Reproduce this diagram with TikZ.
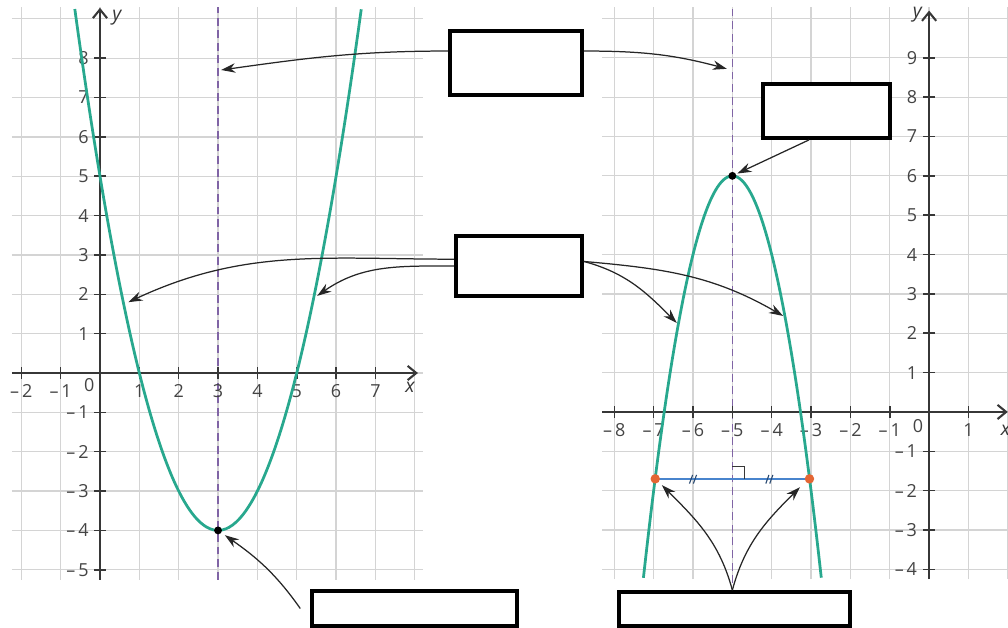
\documentclass[tikz,border=0pt]{standalone}
\usepackage{fontspec}
\setmainfont{Open Sans}
\usetikzlibrary{arrows.meta}

\definecolor{curveteal}{RGB}{40,168,142}
\definecolor{axisgray}{RGB}{55,55,55}
\definecolor{gridgray}{RGB}{212,212,212}
\definecolor{symmpurple}{RGB}{128,100,165}
\definecolor{pointorange}{RGB}{228,102,52}
\definecolor{chordblue}{RGB}{72,132,205}
\definecolor{labelgray}{RGB}{68,68,68}

% tick text: negative numbers get a dash
\newcommand\tickText[1]{\ifnum#1<0 –\,\the\numexpr0-(#1)\relax\else#1\fi}

\begin{document}
\begin{tikzpicture}[
    every node/.style={font=\fontsize{13}{15}\selectfont, text=labelgray},
    gridline/.style={gridgray, line width=0.9pt},
    axisline/.style={axisgray, line width=1.5pt, -{Straight Barb[length=2.2mm,width=3.6mm]}},
    tickline/.style={axisgray, line width=1.1pt},
    parabola/.style={curveteal, line width=2pt},
    symmline/.style={symmpurple, line width=1pt, dash pattern=on 2mm off 1.2mm},
    blankbox/.style={draw=black, line width=2.8pt, fill=white, inner sep=0pt},
    pointer/.style={black!85, line width=0.9pt, -{Stealth[length=3.6mm,width=2.4mm]}},
    axislabel/.style={font=\fontsize{14}{16}\selectfont\itshape, text=axisgray}
]

\useasboundingbox (-2.541,-6.480) rectangle (23.075,9.479);

% --- Left graph: y = (x-3)^2 - 4 ---
\foreach \x in {-2,...,8}
    \draw[gridline] (\x,-5.25) -- (\x,9.3);
\foreach \y in {-5,...,9}
    \draw[gridline] (-2.24,\y) -- (8.21,\y);

\draw[symmline] (3,-5.25) -- (3,9.3);

\draw[axisline] (-2.24,0) -- (8.08,0);
\draw[axisline] (0,-5.26) -- (0,9.28);

\foreach \x in {-2,-1,1,2,3,4,5,6,7} {
    \draw[tickline] (\x,-0.15) -- (\x,0.15);
    \node[anchor=north, inner sep=0pt] at (\x,-0.28) {\tickText{\x}};
}
\foreach \y in {-5,-4,-3,-2,-1,1,2,3,4,5,6,7,8} {
    \draw[tickline] (-0.15,\y) -- (0.15,\y);
    \node[anchor=east, inner sep=0pt] at (-0.28,\y) {\tickText{\y}};
}
\node at (-0.27,-0.31) {0};
\node[axislabel] at (0.43,9.02) {y};
\node[axislabel] at (7.88,-0.36) {x};

\draw[parabola, domain=-0.64:6.64, samples=90, smooth] plot (\x, {(\x-3)^2-4});

\coordinate (vertexL) at (3,-4);
\fill (vertexL) circle (0.1);

% arrow ends on the left graph
\coordinate (axisL) at (3.08,7.70);
\coordinate (branchLa) at (0.72,1.80);
\coordinate (branchLb) at (5.52,1.96);

% --- Right graph: y = -2(x+5)^2 + 6 ---
\begin{scope}[shift={(21.07,-0.99)}]
    \foreach \x in {-8,...,2}
        \draw[gridline] (\x,-4.25) -- (\x,10.3);
    \foreach \y in {-4,...,10}
        \draw[gridline] (-8.31,\y) -- (2.1,\y);

    \draw[symmline] (-5,-4.35) -- (-5,10.3);

    \draw[axisline] (-8.31,0) -- (2.0,0);
    \draw[axisline] (0,-4.25) -- (0,10.2);

    \foreach \x in {-8,-7,-6,-5,-4,-3,-2,-1,1} {
        \draw[tickline] (\x,-0.15) -- (\x,0.15);
        \node[anchor=north, inner sep=0pt] at (\x,-0.28) {\tickText{\x}};
    }
    \foreach \y in {-4,-3,-2,-1,1,2,3,4,5,6,7,8,9} {
        \draw[tickline] (-0.15,\y) -- (0.15,\y);
        \node[anchor=east, inner sep=0pt] at (-0.3,\y) {\tickText{\y}};
    }
    \node at (-0.28,-0.36) {0};
    \node[axislabel] at (-0.3,10.09) {y};
    \node[axislabel] at (1.94,-0.46) {x};

    \draw[parabola, domain=-7.26:-2.74, samples=90, smooth] plot (\x, {6-2*(\x+5)^2});

    % chord between the two equal-height points
    \coordinate (pointA) at (-6.96,-1.7);
    \coordinate (pointB) at (-3.04,-1.7);
    \draw[chordblue, line width=1.3pt] (pointA) -- (pointB);
    \foreach \m in {-6.0,-4.06} {
        \draw[chordblue!55!black, line width=0.8pt] (\m-0.09,-1.82) -- (\m-0.01,-1.6);
        \draw[chordblue!55!black, line width=0.8pt] (\m+0.01,-1.82) -- (\m+0.09,-1.6);
    }
    \draw[axisgray, line width=0.8pt] (-5,-1.38) -- (-4.7,-1.38) -- (-4.7,-1.7);
    \fill[pointorange] (pointA) circle (0.12);
    \fill[pointorange] (pointB) circle (0.12);

    \coordinate (vertexR) at (-5,6);
    \fill (vertexR) circle (0.1);

    % arrow ends on the right graph
    \coordinate (axisR) at (-5.14,8.72);
    \coordinate (branchRa) at (-6.41,2.26);
    \coordinate (branchRb) at (-3.71,2.44);
    \coordinate (tipA) at (-6.79,-1.86);
    \coordinate (tipB) at (-3.28,-1.91);
\end{scope}

% --- Empty answer boxes ---
\node[blankbox, minimum width=3.35cm, minimum height=1.62cm] (axisbox) at (10.57,7.878) {};
\node[blankbox, minimum width=3.2cm, minimum height=1.52cm] (branchbox) at (10.648,2.719) {};
\node[blankbox, minimum width=3.23cm, minimum height=1.37cm] (vertexbox) at (18.46,6.658) {};
\node[blankbox, minimum width=5.21cm, minimum height=0.89cm] (minbox) at (7.99,-5.985) {};
\node[blankbox, minimum width=5.87cm, minimum height=0.86cm] (pointsbox) at (16.125,-5.998) {};

% --- Pointers ---
\draw[pointer] (axisbox.170) to[out=180, in=8] (axisL);
\draw[pointer] (axisbox.10) to[out=0, in=165] (axisR);
\draw[pointer, shorten >=4pt] (vertexbox.239) -- (vertexR);
\draw[pointer] (branchbox.174) to[out=180, in=25] (branchLa);
\draw[pointer] (branchbox.west) to[out=180, in=35] (branchLb);
\draw[pointer] (branchbox.4) to[out=-15, in=135] (branchRa);
\draw[pointer] (branchbox.4) to[out=-5, in=150] (branchRb);
\draw[pointer, shorten >=6pt] ([xshift=-7pt]minbox.west) to[out=125, in=-35] (vertexL);
\draw[pointer] (pointsbox.north -| vertexR) to[out=105, in=-45] (tipA);
\draw[pointer] (pointsbox.north -| vertexR) to[out=75, in=-135] (tipB);

\end{tikzpicture}
\end{document}
